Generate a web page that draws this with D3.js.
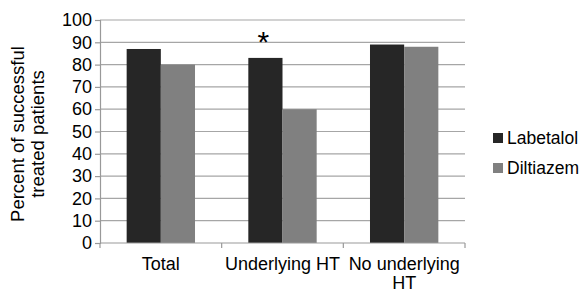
<!DOCTYPE html>
<html>
<head>
<meta charset="utf-8">
<script src="https://cdn.jsdelivr.net/npm/d3@7"></script>
<style>
  body { margin: 0; background: #fff; }
  text { font-family: "Liberation Sans", Arial, sans-serif; fill: #000; }
</style>
</head>
<body>
<div id="chart"></div>
<script>
var categories = ["Total", "Underlying HT", "No underlying HT"];
var series = ["Labetalol", "Diltiazem"];
var labetalol = [87, 83, 89];
var diltiazem = [80, 60, 88];
var yTicks = [0, 10, 20, 30, 40, 50, 60, 70, 80, 90, 100];

var width = 587, height = 292;
var margin = {top: 20, left: 100, right: 122, bottom: 49};

var color = d3.scaleOrdinal().domain(series).range(["#262626", "#808080"]);

var x = d3.scaleBand()
    .domain(categories)
    .range([margin.left, width - margin.right]);

var xInner = d3.scaleBand()
    .domain(series)
    .range([0, x.bandwidth()])
    .paddingOuter(0.78);

var y = d3.scaleLinear()
    .domain([0, 100])
    .range([height - margin.bottom, margin.top]);

var svg = d3.select("#chart").append("svg")
    .attr("width", width)
    .attr("height", height);

// grid
svg.append("g")
    .selectAll("line")
    .data(yTicks.slice(1))
    .enter().append("line")
    .attr("x1", margin.left)
    .attr("x2", width - margin.right)
    .attr("y1", function (d) { return y(d); })
    .attr("y2", function (d) { return y(d); })
    .attr("stroke", "#a6a6a6")
    .attr("stroke-width", 1.2);

var rows = categories.map(function (c, i) {
  return {cat: c, vals: [labetalol[i], diltiazem[i]]};
});

svg.append("g")
    .selectAll("g")
    .data(rows)
    .enter().append("g")
    .attr("transform", function (d) { return "translate(" + x(d.cat) + ",0)"; })
    .selectAll("rect")
    .data(function (d) { return d.vals.map(function (v, j) { return {s: series[j], v: v}; }); })
    .enter().append("rect")
    .attr("x", function (d) { return xInner(d.s); })
    .attr("width", xInner.bandwidth())
    .attr("y", function (d) { return y(d.v); })
    .attr("height", function (d) { return y(0) - y(d.v); })
    .attr("fill", function (d) { return color(d.s); });

// y axis
var yAxis = svg.append("g")
    .attr("transform", "translate(" + margin.left + ",0)")
    .call(d3.axisLeft(y).tickValues(yTicks).tickSize(5).tickPadding(3));
yAxis.select(".domain").attr("stroke", "#999").attr("stroke-width", 1.2);
yAxis.selectAll(".tick line").attr("stroke", "#999").attr("stroke-width", 1.2);
yAxis.selectAll("text").style("font-size", "18px").attr("fill", "#000");

// x axis
var xBottom = y(0);
var xAxis = svg.append("g")
    .attr("transform", "translate(0," + xBottom + ")");
xAxis.append("line")
    .attr("x1", margin.left).attr("x2", width - margin.right)
    .attr("stroke", "#999").attr("stroke-width", 1.2);
var edges = categories.map(function (c) { return x(c); }).concat([width - margin.right]);
xAxis.selectAll(".tk")
    .data(edges)
    .enter().append("line")
    .attr("x1", function (d) { return d; })
    .attr("x2", function (d) { return d; })
    .attr("y1", 0).attr("y2", 5)
    .attr("stroke", "#999").attr("stroke-width", 1.2);

var xLabelLines = [["Total"], ["Underlying HT"], ["No underlying", "HT"]];
xAxis.selectAll(".lbl")
    .data(categories)
    .enter().append("text")
    .attr("text-anchor", "middle")
    .style("font-size", "18px")
    .attr("x", function (d) { return x(d) + x.bandwidth() / 2; })
    .attr("y", 27)
    .each(function (d, i) {
      var t = d3.select(this);
      xLabelLines[i].forEach(function (line, k) {
        t.append("tspan")
          .attr("x", x(d) + x.bandwidth() / 2)
          .attr("dy", k === 0 ? 0 : 18.5)
          .text(line);
      });
    });

// significance marker
svg.append("text")
    .attr("x", x("Underlying HT") + xInner("Labetalol") + xInner.bandwidth() / 2 - 2)
    .attr("y", y(83) - 6)
    .attr("text-anchor", "middle")
    .style("font-size", "30px")
    .text("*");

// y title
svg.append("text")
    .attr("transform", "translate(24,134) rotate(-90)")
    .attr("text-anchor", "middle")
    .style("font-size", "18.5px")
    .selectAll("tspan")
    .data(["Percent of successful", "treated patients"])
    .enter().append("tspan")
    .attr("x", 0)
    .attr("dy", function (d, i) { return i === 0 ? 0 : 20; })
    .text(function (d) { return d; });

// legend
var legend = svg.append("g")
    .selectAll("g")
    .data(series)
    .enter().append("g")
    .attr("transform", function (d, i) { return "translate(493," + (133 + i * 30) + ")"; });
legend.append("rect")
    .attr("width", 10).attr("height", 10)
    .attr("fill", function (d) { return color(d); });
legend.append("text")
    .attr("x", 14).attr("y", 10.5)
    .style("font-size", "17.5px")
    .text(function (d) { return d; });
</script>
</body>
</html>
